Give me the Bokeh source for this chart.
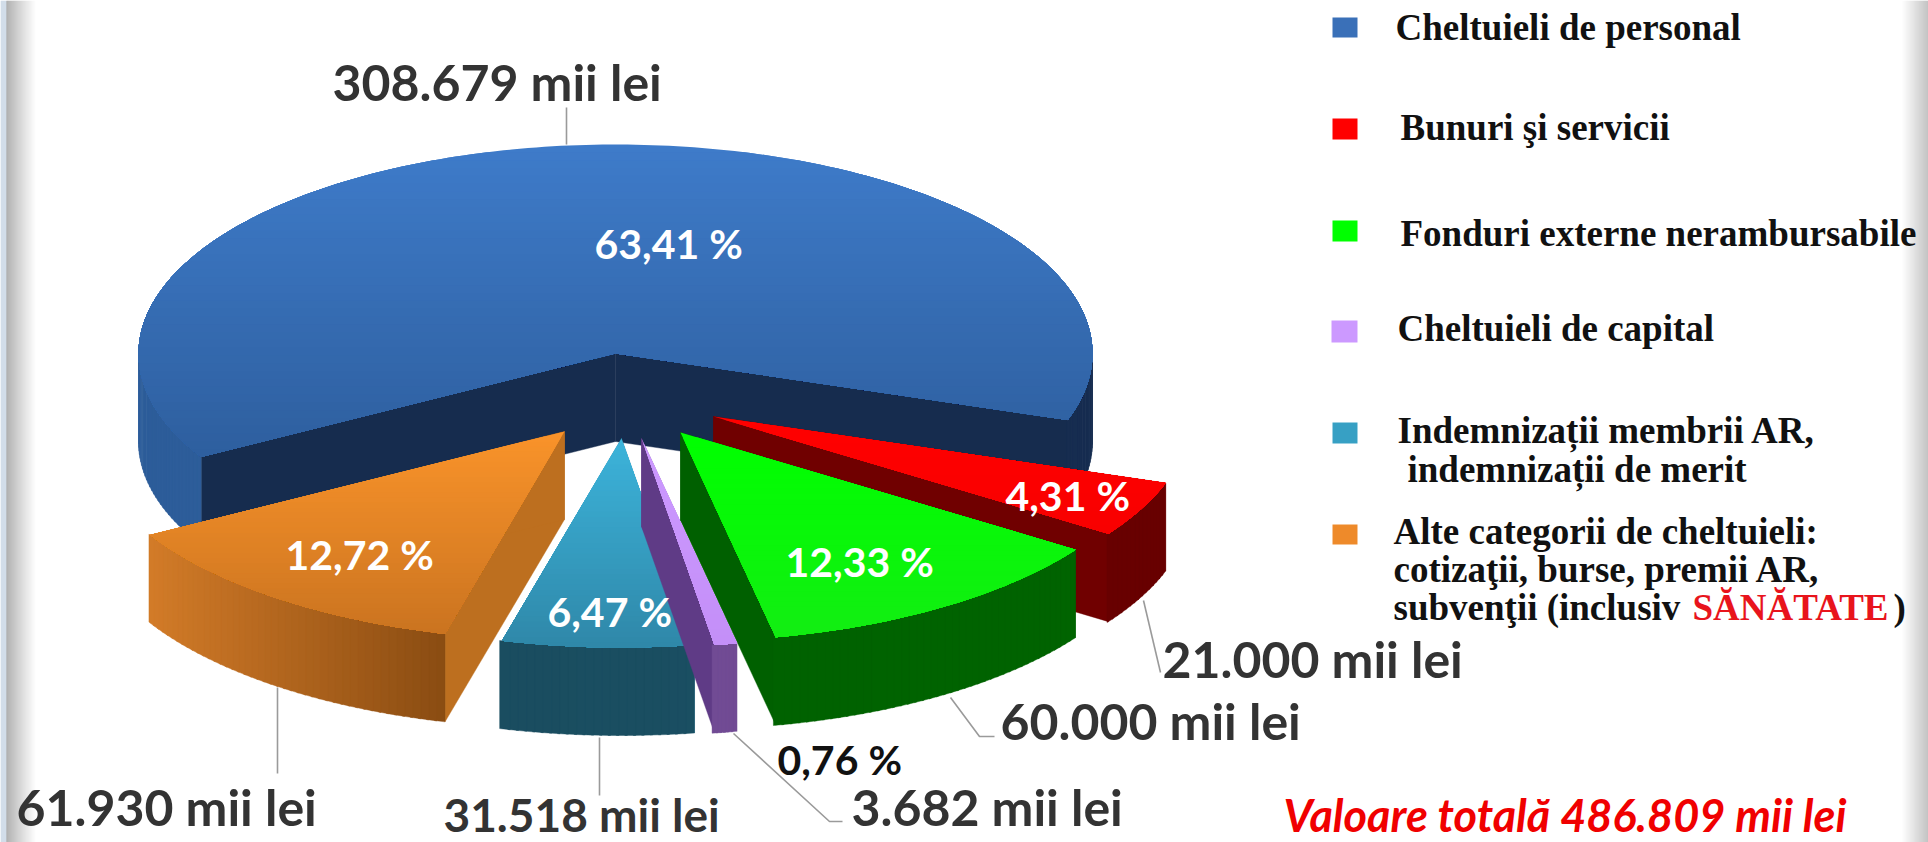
import math
from bokeh.plotting import figure
from bokeh.models import Range1d, ColumnDataSource
from bokeh.core.properties import value
from bokeh.embed import file_html
from bokeh.resources import INLINE

# ---------- data ----------
categories = ["Cheltuieli de personal", "Bunuri şi servicii", "Fonduri externe nerambursabile",
              "Cheltuieli de capital", "Indemnizații membrii AR, indemnizații de merit",
              "Alte categorii de cheltuieli"]
amounts = [308679, 21000, 60000, 3682, 31518, 61930]
percent_labels = ["63,41 %", "4,31 %", "12,33 %", "0,76 %", "6,47 %", "12,72 %"]
amount_labels = ["308.679 mii lei", "21.000 mii lei", "60.000 mii lei", "3.682 mii lei",
                 "31.518 mii lei", "61.930 mii lei"]
total_label = "Valoare totală 486.809 mii lei"

# ---------- layout / style ----------
RX, RY, DEPTH = 477.0, 209.0, 88.0
START = 150.3
apex = [(615, 353), (713, 416), (680, 432), (641, 438), (621, 438), (564, 431)]
top_col = [("#3e7bc9", "#2e5f9f"), ("#ff0000", "#f80000"), ("#00ff00", "#12ee12"),
           ("#cc99ff", "#c48ff8"), ("#3cb3da", "#2f88a9"), ("#f9932a", "#cb7420")]
wall_col = [("#172d50", "#2d5d9a"), ("#680000", "#680000"), ("#006400", "#005f00"),
            ("#714b94", "#714b94"), ("#1a5266", "#1a4a5c"), ("#8a4c12", "#d27b28")]
side_col = ["#162c4e", "#700000", "#006000", "#5f3b86", "#2a7d9a", "#bd6f1f"]
draw_order = [0, 1, 2, 5, 4, 3]
legend_col = ["#3a70b8", "#ff0000", "#00ff00", "#cc99ff", "#37a0c4", "#ee8a2a"]


def hex2rgb(h):
    return tuple(int(h[i:i + 2], 16) for i in (1, 3, 5))


def mix(a, b, t):
    ra, rb = hex2rgb(a), hex2rgb(b)
    return "#%02x%02x%02x" % tuple(int(round(x + (y - x) * t)) for x, y in zip(ra, rb))


def pt(c, deg):
    r = math.radians(deg)
    return c[0] + RX * math.cos(r), c[1] + RY * math.sin(r)


def clip_below(poly, y0):
    out = []
    n = len(poly)
    for i in range(n):
        a, b = poly[i], poly[(i + 1) % n]
        ina, inb = a[1] >= y0, b[1] >= y0
        if ina:
            out.append(a)
        if ina != inb:
            t = (y0 - a[1]) / (b[1] - a[1])
            out.append((a[0] + (b[0] - a[0]) * t, y0))
    return out


total = sum(amounts)
spans = [a / total * 360 for a in amounts]
ranges = []
cur = START
for s in spans:
    ranges.append((cur, cur + s))
    cur += s

xs, ys, cols, stroke = [], [], [], []


def add(poly, col, line=1.0):
    xs.append([q[0] for q in poly])
    ys.append([q[1] for q in poly])
    cols.append(col)
    stroke.append(line)


for i in draw_order:
    c = apex[i]
    a0, a1 = ranges[i]
    # cut faces
    for ang in (a0, a1):
        e = pt(c, ang)
        add([c, e, (e[0], e[1] + DEPTH), (c[0], c[1] + DEPTH)], side_col[i])
    # outer wall, only the front half of the ellipse
    steps = max(6, int(a1 - a0))
    for k in range(steps):
        t0 = a0 + (a1 - a0) * k / steps
        t1 = a0 + (a1 - a0) * (k + 1) / steps + 0.3
        mid = ((t0 + t1) / 2) % 360
        if mid > 180:
            continue
        f = (math.cos(math.radians(mid)) + 1) / 2
        if i == 5:
            tt = (pt(c, a0)[0] - pt(c, mid)[0]) / (pt(c, a0)[0] - pt(c, a1)[0])
        elif i == 0:
            tt = 1.0 if mid > 90 else 0.0
        else:
            tt = 1 - f
        p0, p1 = pt(c, t0), pt(c, t1)
        add([p0, p1, (p1[0], p1[1] + DEPTH), (p0[0], p0[1] + DEPTH)],
            mix(wall_col[i][0], wall_col[i][1], tt))
    # top face with a vertical gradient
    n = max(8, int(a1 - a0))
    poly = [c] + [pt(c, a0 + (a1 - a0) * k / n) for k in range(n + 1)]
    ymin, ymax = min(q[1] for q in poly), max(q[1] for q in poly)
    bands = 40
    for b in range(bands):
        y0 = ymin + (ymax - ymin) * b / bands
        clipped = clip_below(poly, y0) if b else poly
        if len(clipped) >= 3:
            add(clipped, mix(top_col[i][0], top_col[i][1], b / (bands - 1)), 0.0)

p = figure(width=1928, height=842, output_backend="svg", toolbar_location=None,
           x_range=Range1d(0, 1928), y_range=Range1d(842, 0), min_border=0,
           background_fill_color="white", border_fill_color="white", outline_line_color=None)
p.axis.visible = False
p.grid.visible = False

# page rails
lx, rx, lc = [], [], []
for k in range(6):
    lx.append(k)
    rx.append(k + 1)
    lc.append("#c4d2e2")
for k in range(30):
    lx.append(6 + k)
    rx.append(7 + k)
    lc.append(mix("#959595", "#ffffff", (k / 29) ** 0.9))
for k in range(27):
    lx.append(1901 + k)
    rx.append(1902 + k)
    lc.append(mix("#ffffff", "#b0b0b0", k / 26))
p.quad(left=lx, right=rx, top=[0] * len(lx), bottom=[842] * len(lx), fill_color=lc, line_color=None)

# leader lines
leaders = [([566, 566], [107, 144]), ([277, 277], [687, 773]), ([599, 599], [737, 795]),
           ([733, 829, 842], [733, 821, 821]), ([950, 979, 994], [697, 736, 736]),
           ([1143, 1160], [600, 672])]
for lxs, lys in leaders:
    p.line(lxs, lys, line_color="#9a9a9a", line_width=1.6)

p.patches(xs="xs", ys="ys", fill_color="c", line_color="c", line_alpha="s", line_width=0.4,
          source=ColumnDataSource(dict(xs=xs, ys=ys, c=cols, s=stroke)))


def text(x, y, s, size, color="#333333", font="Lato", style="bold", align="left"):
    p.text(x=[x], y=[y], text=[s], text_font=value(font), text_font_size=value(f"{size}px"),
           text_font_style=style, text_color=color, text_baseline="middle", text_align=align)


# amount labels
amount_pos = [(332, 81), (1162, 658), (1000, 720), (851, 806), (443, 814), (16, 806)]
amount_size = [50, 50, 50, 50, 46, 50]
for (x, y), s, fs in zip(amount_pos, amount_labels, amount_size):
    text(x, y, s, fs)
# percent labels
percent_pos = [(594, 243), (1005, 495), (785, 561), (777, 759), (547, 611), (285, 554)]
percent_color = ["white", "white", "white", "#111111", "white", "white"]
for (x, y), s, col in zip(percent_pos, percent_labels, percent_color):
    text(x, y, s, 41, col)

# legend
sw = [(1332, 17, 37), (1332, 118, 139), (1332, 220, 241), (1331, 320, 342), (1332, 422, 443), (1332, 524, 544)]
for (x, y0, y1), col in zip(sw, legend_col):
    p.quad(left=[x], right=[1357], top=[y0], bottom=[y1], fill_color=col, line_color=None)

SER = "Liberation Serif"
LS = 37
legend_lines = [(1395, 27, "Cheltuieli de personal"), (1400, 127, "Bunuri şi servicii"),
                (1400, 233, "Fonduri externe nerambursabile"), (1397, 328, "Cheltuieli de capital"),
                (1397, 430, "Indemnizații membrii AR,"), (1407, 469, "indemnizații de merit"),
                (1393, 531, "Alte categorii de cheltuieli:"), (1393, 569, "cotizaţii, burse, premii AR,"),
                (1393, 607, "subvenţii (inclusiv")]
for x, y, s in legend_lines:
    text(x, y, s, LS, "#111111", SER)
text(1692, 607, "SĂNĂTATE", LS, "#e8141c", SER)
text(1893, 607, ")", LS, "#111111", SER)

text(1283, 814, total_label, 45, "#f00000", "Lato", "bold italic")

open("out.html", "w").write(file_html(p, INLINE))
